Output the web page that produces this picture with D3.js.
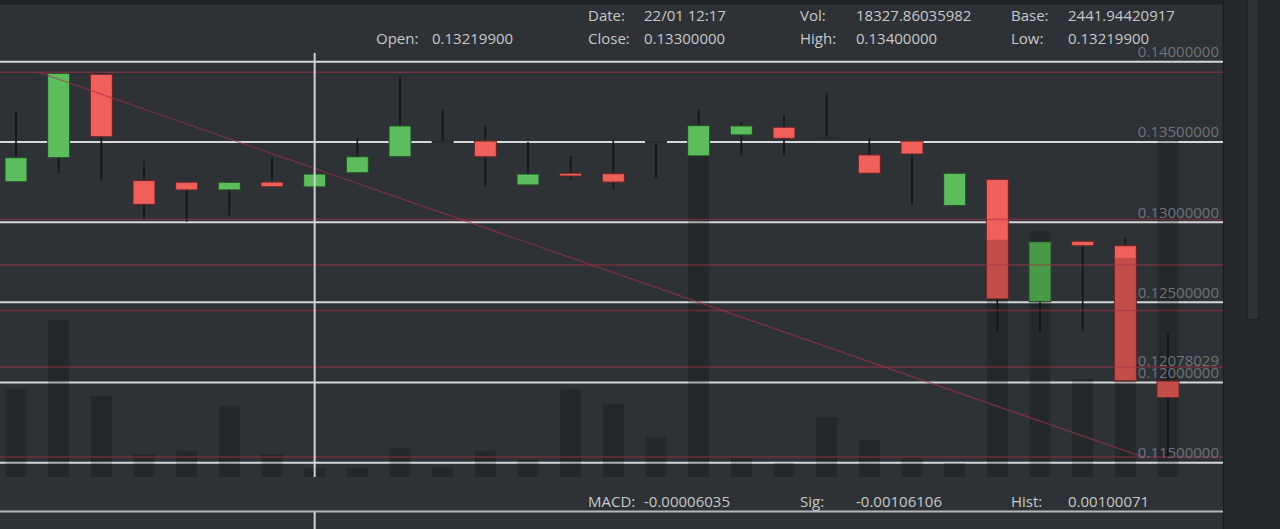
<!DOCTYPE html>
<html><head><meta charset="utf-8">
<script src="https://cdn.jsdelivr.net/npm/d3@7"></script>
<style>
html,body{margin:0;padding:0;background:#25282b;overflow:hidden;}
svg{display:block;font-family:"Open Sans","Noto Sans",sans-serif;}
</style></head>
<body>
<svg id="c" width="1280" height="529"></svg>
<script>
// ---- data ----
const opens  = [0.13252,0.13402,0.13922,0.13259,0.13249,0.13201,0.13250,0.132199,0.13308,0.13408,0.13500,0.13506,0.13232,0.13305,0.13302,0.13500,0.13413,0.13544,0.13592,0.13525,0.13419,0.13505,0.13103,0.13267,0.12504,0.12881,0.12853,0.12010];
const highs  = [0.13689,0.13935,0.13925,0.13381,0.13249,0.13249,0.13405,0.134000,0.13523,0.13907,0.13704,0.13606,0.13500,0.13413,0.13517,0.13500,0.13704,0.13627,0.13668,0.13810,0.13523,0.13505,0.13305,0.13267,0.12878,0.12881,0.12899,0.12303];
const lows   = [0.13250,0.13305,0.13257,0.13014,0.13003,0.13040,0.13221,0.132199,0.13308,0.13408,0.13500,0.13226,0.13232,0.13263,0.13201,0.13274,0.13413,0.13413,0.13413,0.13525,0.13305,0.13107,0.13103,0.12323,0.12317,0.12317,0.12010,0.11536];
const closes = [0.13402,0.13928,0.13533,0.13111,0.13201,0.13249,0.13221,0.133000,0.13408,0.13600,0.13500,0.13408,0.13300,0.13288,0.13250,0.13500,0.13602,0.13600,0.13523,0.13525,0.13305,0.13425,0.13305,0.12521,0.12878,0.12853,0.12010,0.11905];
const volumes = [179000,320000,165000,47000,53000,145000,47000,18327.86,18500,59000,20000,53000,35000,179000,149000,81000,654000,39000,28500,122000,75000,41000,28500,483000,501000,200000,446000,686000];
const priceTicks = [0.115,0.12,0.125,0.13,0.135,0.14];
const fibLevels = [0.13935,0.13017,0.12733,0.12449,0.12097,0.11536];
const markerLabels = [0.12078029];
const trendLine = [[0.52,0.13935],[26.41,0.11536]];
const crosshairIndex = 7;
const headerRows = [
  [["Date:","22/01 12:17"],["Vol:","18327.86035982"],["Base:","2441.94420917"]],
  [["Open:","0.13219900"],["Close:","0.13300000"],["High:","0.13400000"],["Low:","0.13219900"]]
];
const macdRow = [["MACD:","-0.00006035"],["Sig:","-0.00106106"],["Hist:","0.00100071"]];

// ---- layout ----
const W = 1280, H = 529, chartRight = 1223;
const svg = d3.select("#c");
const x = d3.scaleLinear().domain([0, opens.length - 1]).range([16, 1168]);
const y = d3.scaleLinear().domain([0.115, 0.14]).range([462.7, 61.8]);
const vy = d3.scaleLinear().domain([0, 800000]).range([477, 84]);
const bodyW = 22, volW = 21;
const fmt = d3.format(".8f");

// backgrounds
svg.append("rect").attr("x",0).attr("y",0).attr("width",W).attr("height",H).attr("fill","#25282b");
svg.append("rect").attr("x",0).attr("y",0).attr("width",chartRight).attr("height",H).attr("fill","#2e3236");
svg.append("rect").attr("x",0).attr("y",0).attr("width",chartRight+1).attr("height",3).attr("fill","#222528");
svg.append("line").attr("x1",0).attr("x2",chartRight).attr("y1",3.5).attr("y2",3.5).attr("stroke","#1b1d20").attr("stroke-width",1.5);
svg.append("line").attr("x1",0).attr("x2",chartRight).attr("y1",48.5).attr("y2",48.5).attr("stroke","#2a2d31").attr("stroke-width",1);
svg.append("line").attr("x1",chartRight+0.5).attr("x2",chartRight+0.5).attr("y1",0).attr("y2",H).attr("stroke","#1b1d20").attr("stroke-width",1.5);
// scrollbar column
svg.append("rect").attr("x",1247.5).attr("y",-1).attr("width",11).attr("height",320.5).attr("fill","#2f3337").attr("stroke","#1e2023").attr("stroke-width",1.2);

// gridlines
svg.append("g").selectAll("line").data(priceTicks).join("line")
  .attr("x1",0).attr("x2",chartRight).attr("y1",d=>y(d)).attr("y2",d=>y(d))
  .attr("stroke","#d6d8da").attr("stroke-width",2);

// candles
const idx = d3.range(opens.length);
const cg = svg.append("g");
cg.selectAll("line.wick").data(idx).join("line").attr("class","wick")
  .attr("x1",i=>x(i)).attr("x2",i=>x(i))
  .attr("y1",i=>y(highs[i])).attr("y2",i=>y(lows[i]))
  .attr("stroke","#141517").attr("stroke-width",1.6);
cg.selectAll("rect.body").data(idx.filter(i=>opens[i]!==closes[i])).join("rect").attr("class","body")
  .attr("x",i=>x(i)-bodyW/2)
  .attr("y",i=>y(Math.max(opens[i],closes[i])))
  .attr("width",bodyW)
  .attr("height",i=>Math.max(2,Math.abs(y(opens[i])-y(closes[i]))))
  .attr("fill",i=>closes[i]>opens[i]?"#5bbd5b":"#f0605b")
  .attr("stroke",i=>closes[i]>opens[i]?"#234a25":"#6a2424")
  .attr("stroke-width",1);
cg.selectAll("line.doji").data(idx.filter(i=>opens[i]===closes[i])).join("line").attr("class","doji")
  .attr("x1",i=>x(i)-bodyW/2).attr("x2",i=>x(i)+bodyW/2)
  .attr("y1",i=>y(opens[i])).attr("y2",i=>y(opens[i]))
  .attr("stroke","#2a2b2d").attr("stroke-width",2);

// volume bars (semi-transparent overlay)
svg.append("g").selectAll("rect").data(idx).join("rect")
  .attr("x",i=>x(i)-volW/2).attr("width",volW)
  .attr("y",i=>vy(volumes[i])).attr("height",i=>vy(0)-vy(volumes[i]))
  .attr("fill","rgba(0,0,0,0.19)");

// fib lines
svg.append("g").selectAll("line").data(fibLevels).join("line")
  .attr("x1",0).attr("x2",chartRight).attr("y1",d=>y(d)).attr("y2",d=>y(d))
  .attr("stroke","rgba(170,50,70,0.55)").attr("stroke-width",1.5);
// trend line
svg.append("path").datum(trendLine)
  .attr("d",d3.line().x(d=>x(d[0])).y(d=>y(d[1])))
  .attr("fill","none").attr("stroke","rgba(170,50,70,0.6)").attr("stroke-width",1.3);

// crosshair
const cx = x(crosshairIndex);
svg.append("line").attr("x1",cx).attr("x2",cx).attr("y1",53).attr("y2",477).attr("stroke","#cfd1d3").attr("stroke-width",2);
svg.append("line").attr("x1",cx).attr("x2",cx).attr("y1",511).attr("y2",H).attr("stroke","#cfd1d3").attr("stroke-width",2);

// macd separator
svg.append("line").attr("x1",0).attr("x2",chartRight).attr("y1",511.5).attr("y2",511.5).attr("stroke","#b4b7b9").attr("stroke-width",2);

// price labels
svg.append("g").selectAll("text").data(priceTicks.concat(markerLabels)).join("text")
  .attr("x",1219).attr("y",d=>y(d)-4.5).attr("text-anchor","end")
  .attr("font-size",15).attr("fill","#6f7377").text(d=>fmt(d));

// header texts
const colX = [[588,644],[800,856],[1011,1068]];
const colX2 = [[376,432],[588,644],[800,856],[1011,1068]];
function row(items, cols, by){
  const g = svg.append("g");
  items.forEach((it,k)=>{
    g.append("text").attr("x",cols[k][0]).attr("y",by).attr("font-size",15).attr("fill","#c6c8ca").text(it[0]);
    g.append("text").attr("x",cols[k][1]).attr("y",by).attr("font-size",15).attr("fill","#c6c8ca").text(it[1]);
  });
}
row(headerRows[0], colX, 21.3);
row(headerRows[1], colX2, 43.5);
row(macdRow, colX, 506.5);
</script>
</body></html>
